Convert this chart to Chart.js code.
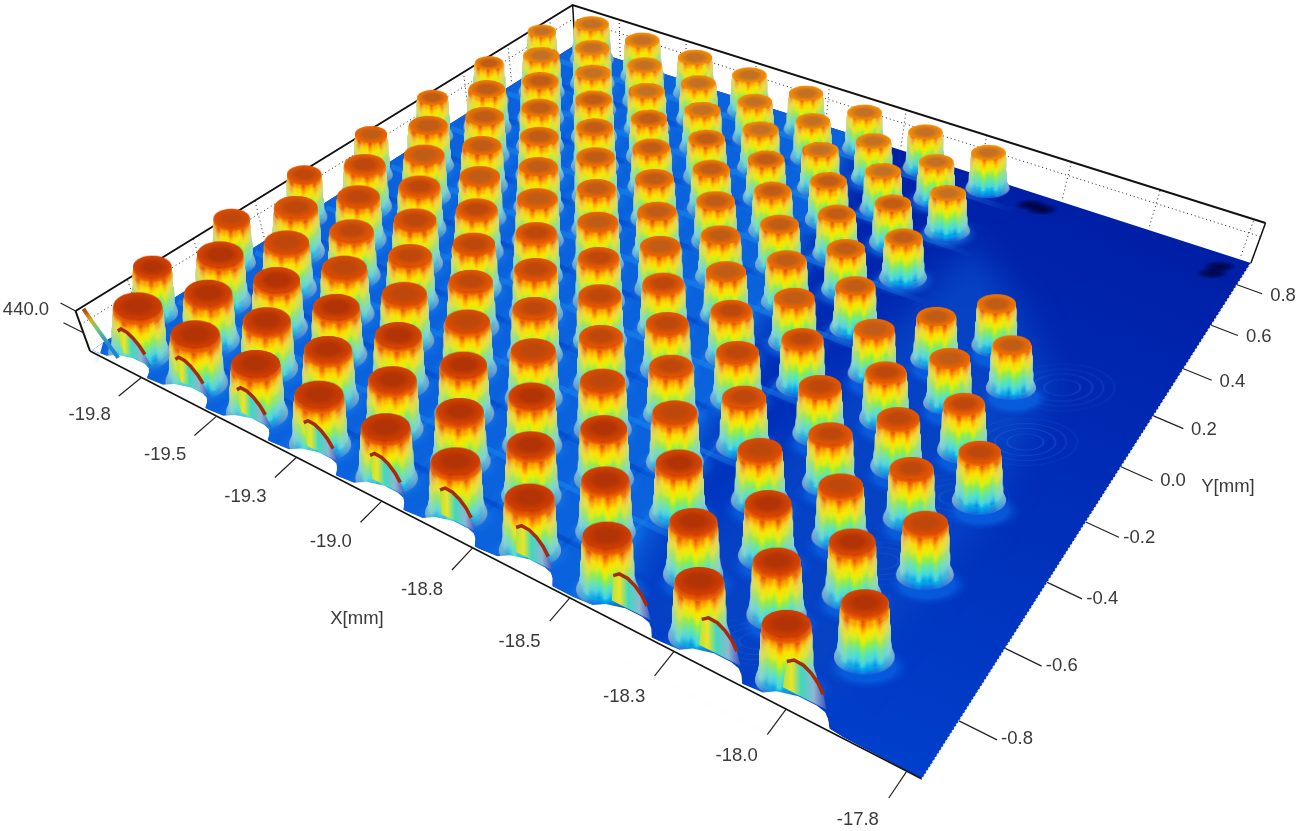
<!DOCTYPE html>
<html><head><meta charset="utf-8">
<style>html,body{margin:0;padding:0;background:#fff}canvas{display:block}</style>
<script src="https://cdn.jsdelivr.net/npm/chart.js@4/dist/chart.umd.min.js"></script>
</head><body>
<canvas id="c" width="1296" height="831"></canvas>
<script>
// ---- chart values (mm and nm) ----
const xRange=[-19.93,-17.72], yRange=[-0.947,0.914], zTop=440;
const xTicks=[-19.75,-19.5,-19.25,-19,-18.75,-18.5,-18.25,-18,-17.75];
const xTickLabels=["-19.8","-19.5","-19.3","-19.0","-18.8","-18.5","-18.3","-18.0","-17.8"];
const yTicks=[-0.8,-0.6,-0.4,-0.2,0,0.2,0.4,0.6,0.8];
const yTickLabels=["-0.8","-0.6","-0.4","-0.2","0.0","0.2","0.4","0.6","0.8"];
const evenRowY=[-0.89,-0.64,-0.388,-0.138,0.113,0.364,0.615,0.866];
const oddRowY=[-0.765,-0.514,-0.263,-0.012,0.239,0.489,0.74];
const rowLevelY=[-0.89,-0.765,-0.64,-0.514,-0.388,-0.263,-0.138,-0.012,0.113,0.239,0.364,0.489,0.615,0.74,0.866];
const rowPeakZ=[430,426,422,418,414,408,402,396,390,385,382,378,375,372,370];
const leftColX=[-19.826,-19.63,-19.433,-19.237,-19.04,-18.844,-18.647,-18.451];
const midColX=[-19.728,-19.531,-19.335,-19.138,-18.942,-18.745,-18.549];
const edgeColX=[-19.924];
const blockX=[-18.33,-18.33,-18.33,-18.33,-18.231,-18.231,-18.231,-18.231,-18.231,-18.133,-18.133,-18.133,-18.133,-18.133,-18.035,-18.035,-18.035,-18.035,-18.035,-17.937,-17.937,-17.937];
const blockY=[-0.765,-0.514,-0.263,-0.012,-0.89,-0.64,-0.388,-0.138,0.113,-0.765,-0.514,-0.263,-0.012,0.239,-0.89,-0.64,-0.388,-0.138,0.113,-0.765,-0.514,-0.263];
const cutX=[-19.813,-19.618,-19.419,-19.213,-19.019,-18.824,-18.623,-18.381,-18.174,-17.986];
const cutY=-0.908;
const cutDX=[-0.045,-0.04,-0.025,-0.005,0.012,0.028,0.04,0.05];
const cutZ=[0,245,290,285,250,190,115,0];
const bandY=[-0.827,-0.702,-0.576,-0.451,-0.325,-0.2,-0.075,0.05,0.176,0.301,0.427,0.552,0.677,0.802];
const bandX=[-19.777,-19.679,-19.581,-19.482,-19.384,-19.286,-19.188,-19.089,-18.991,-18.893,-18.795,-18.696,-18.598,-18.5];
const rippleX=[-17.935,-17.93,-17.98,-18.03,-18.13];
const rippleY=[0.18,-0.04,-0.28,-0.53,-0.84];
const spotX=[-18.315,-18.28,-17.784,-17.79];
const spotY=[0.854,0.85,0.854,0.815];
const cornerX=[-19.925,-19.91,-19.89,-19.87,-19.85];
const cornerY=[-0.93,-0.93,-0.93,-0.93,-0.93];
const cornerZ=[430,330,220,110,10];

// ---- projection onto the photographed plane ----
const pa=595.3,pb=689.5,pc=90,pd=228,pe=-290,pf=351,pg=-0.2567,ph=0.3557;
function uv(X,Y){return [(X-xRange[0])/(xRange[1]-xRange[0]),(Y-yRange[0])/(yRange[1]-yRange[0])];}
function project(X,Y,Z){
  const [s,t]=uv(X,Y),den=pg*s+ph*t+1;
  const bx=(pa*s+pb*t+pc)/den,by=(pd*s+pe*t+pf)/den;
  const k=(Z||0)/zTop,K=40+10*s*(1-t);
  return {x:bx+(bx-668)*0.025*k,y:by-k*K};
}
// ---- colour ramp ----
const ramp=[[0,20,105,222],[.08,0,165,235],[.2,70,215,228],[.33,95,232,170],[.47,150,238,70],[.58,225,240,15],[.70,255,225,0],[.80,255,165,0],[.89,238,100,0],[.96,212,65,0],[1,186,45,5]];
function jet(l){l=Math.max(0,Math.min(1,l));
  for(let i=1;i<ramp.length;i++){if(l<=ramp[i][0]){const a=ramp[i-1],b=ramp[i],q=(l-a[0])/(b[0]-a[0]);
    return [a[1]+(b[1]-a[1])*q,a[2]+(b[2]-a[2])*q,a[3]+(b[3]-a[3])*q];}}
  return ramp[ramp.length-1].slice(1);}
const rgb=c=>`rgb(${c[0]|0},${c[1]|0},${c[2]|0})`;
// ---- point images ----
const cache=new Map();
function layerSprite(w,asp,level,pat){
  w=Math.max(6,Math.round(w/2)*2);level=Math.round(level*56)/56;asp=Math.round(asp*25)/25;
  const key=[w,asp,level,pat].join('|');if(cache.has(key))return cache.get(key);
  const cv=document.createElement('canvas');const h=Math.ceil(w*asp);cv.width=w+2;cv.height=h+2;
  const g=cv.getContext('2d');const gr=g.createLinearGradient(1,0,w+1,0);
  for(let i=0;i<=20;i++){const u=i/10-1;
    const amp=level>0.86?0.008:level<0.1?0.015:0.05;
    const lv=level+amp*Math.sin(9*u+pat*1.9)+amp*.8*Math.sin(19*u+pat*3.1);
    let c=jet(lv);const m=Math.pow(Math.abs(u),2.6)*(level<.8?0.6:0.15);
    c=[c[0]+(200-c[0])*m,c[1]+(205-c[1])*m,c[2]+(195-c[2])*m];
    gr.addColorStop(i/20,rgb(c));}
  g.fillStyle=gr;g.beginPath();g.ellipse(w/2+1,h/2+1,w/2,h/2,0,0,7);g.fill();
  cache.set(key,cv);return cv;}
function capSprite(w,asp,t,peak){
  w=Math.round(w/2)*2;const band=Math.round(t*3);const key=['cap',w,asp.toFixed(2),band].join('|');
  if(cache.has(key))return cache.get(key);
  const cv=document.createElement('canvas');const h=Math.ceil(w*asp);cv.width=w+2;cv.height=h+2;
  const g=cv.getContext('2d');g.translate(w/2+1,h/2+1);g.scale(1,asp);
  const gr=g.createRadialGradient(0,0,0,0,0,w/2);
  const mid=[[178,52,6],[190,72,12],[192,92,22],[196,112,36]][band];const rim=jet(peak*.985);
  gr.addColorStop(0,rgb(mid));gr.addColorStop(.45,rgb(mid));gr.addColorStop(1,rgb(rim));
  g.fillStyle=gr;g.beginPath();g.arc(0,0,w/2,0,7);g.fill();cache.set(key,cv);return cv;}
function glowSprite(w,asp,inner,outer){
  w=Math.round(w/4)*4;const key=['glow',w,inner].join('|');if(cache.has(key))return cache.get(key);
  const cv=document.createElement('canvas');const h=Math.ceil(w*asp);cv.width=w;cv.height=h;
  const g=cv.getContext('2d');g.translate(w/2,h/2);g.scale(1,asp);
  const gr=g.createRadialGradient(0,0,0,0,0,w/2);gr.addColorStop(0,inner);gr.addColorStop(.6,inner);gr.addColorStop(1,outer);
  g.fillStyle=gr;g.beginPath();g.arc(0,0,w/2,0,7);g.fill();cache.set(key,cv);return cv;}
function ringSprite(w,asp){
  const key='ring'+w;if(cache.has(key))return cache.get(key);
  const cv=document.createElement('canvas');const h=Math.ceil(w*asp);cv.width=w;cv.height=h;
  const g=cv.getContext('2d');g.translate(w/2,h/2);g.scale(1,asp);
  [[.95,.08],[.75,.12],[.55,.16],[.33,.18]].forEach(r=>{g.strokeStyle=`rgba(50,130,235,${r[1]*1.6})`;g.lineWidth=2;g.beginPath();g.arc(0,0,w/2*r[0],0,7);g.stroke();});
  cache.set(key,cv);return cv;}
function darkSprite(){const cv=document.createElement('canvas');cv.width=34;cv.height=12;const g=cv.getContext('2d');
  g.translate(17,6);g.scale(1,.35);const gr=g.createRadialGradient(0,0,1,0,0,17);gr.addColorStop(0,'rgba(0,5,60,.95)');gr.addColorStop(.6,'rgba(0,5,70,.6)');gr.addColorStop(1,'rgba(0,10,100,0)');g.fillStyle=gr;g.beginPath();g.arc(0,0,17,0,7);g.fill();return cv;}

// ---- datasets ----
const datasets=[];
function add(o){o.order=-datasets.length;o.clip=false;datasets.push(o);return o;}
function path(pts,color,width,dash,extra){return add(Object.assign({type:'scatter',data:pts,showLine:true,tension:0,pointRadius:0,borderColor:color,borderWidth:width,borderDash:dash||[]},extra||{}));}
const cvMain=document.getElementById('c');const ctx0=cvMain.getContext('2d');
function lin(x0,y0,x1,y1,stops){const g=ctx0.createLinearGradient(x0,y0,x1,y1);stops.forEach(s=>g.addColorStop(s[0],s[1]));return g;}

const [x0,x1]=xRange,[y0,y1]=yRange;
// walls
path([project(x0,y0,290),project(x0,y1,290),project(x1,y1,290)],'#222',1,[1,3]);
xTicks.forEach(v=>path([project(v,y1,40),project(v,y1,zTop)],'#222',1,[1,3]));
yTicks.forEach(v=>path([project(x0,v,40),project(x0,v,zTop)],'#222',1,[1,3]));
path([project(x0,y0,zTop),project(x0,y1,zTop),project(x1,y1,zTop)],'#111',2,[]);
path([project(x0,y1,0),project(x0,y1,zTop)],'#111',1.5,[]);
// floor
const front=[];
cutX.forEach(c=>{[[-.115,-.942],[-.07,-.938],[-.05,-.922],[-.01,-.91],[.03,-.91],[.05,-.915],[.062,-.925],[.075,-.942]].forEach(p=>front.push([c+p[0],p[1]]));});
const floorPts=[project(x0,-0.91)].concat(front.map(p=>project(p[0],p[1])),[project(-17.88,-0.945),project(x1,y0),project(x1,y1),project(x0,y1)]);
path(floorPts,'rgba(0,0,0,0)',0,[],{polyFill:lin(1100,200,860,760,[[0,'#001ea6'],[.6,'#0032bc'],[1,'#0040cc']])});
const blockZoneX=[-18.37,-18.0,-17.93,-17.9,-17.96,-18.14,-18.37];
const blockZoneY=[-0.93,-0.93,-0.85,-0.3,0.18,0.4,0.6];
path(blockZoneX.map((v,i)=>project(v,blockZoneY[i])),'rgba(0,0,0,0)',0,[],{polyFill:'#0642c4',polyBlur:16});
const zoneFront=front.filter(p=>p[0]<-18.32);
const zA=project(-18.43,y0),zB=project(-18.33,y0);
const zoneA=[project(x0,-0.91)].concat(zoneFront.map(p=>project(p[0],p[1])),[project(-18.3,-0.93),project(-18.3,y1),project(x0,y1)]);
path(zoneA,'rgba(0,0,0,0)',0,[],{polyFill:lin(zA.x,zA.y,zB.x,zB.y,[[0,'#0a62dc'],[1,'rgba(6,66,196,0)']])});
bandX.forEach((v,i)=>path([project(v,y0+.02),project(v,y1-.02)],i%2?'rgba(30,140,240,.28)':'rgba(0,60,195,.28)',4));
bandY.forEach((v,i)=>{const a=project(x0+.02,v),b=project(-18.34,v);
  const col=i%2?'30,140,240':'0,60,195';
  path([a,b],lin(a.x,a.y,b.x,b.y,[[0,`rgba(${col},.5)`],[.86,`rgba(${col},.5)`],[1,`rgba(${col},0)`]]),5);});
// ripples, dark spots, glow around bases
const ringPts=rippleX.map((v,i)=>project(v,rippleY[i]));
add({type:'scatter',data:ringPts,pointRadius:5,pointStyle:()=>ringSprite(110,.45),showLine:false});
const spotPts=spotX.map((v,i)=>project(v,spotY[i]));
add({type:'scatter',data:spotPts,pointRadius:5,pointStyle:()=>darkSprite(),showLine:false});

// pillars
const pillars=[];
edgeColX.forEach(X=>oddRowY.forEach(Y=>pillars.push({X,Y,narrow:.8,p:1})));
leftColX.forEach((X,i)=>evenRowY.forEach((Y,j)=>pillars.push({X,Y,narrow:1,p:(i+j)%3})));
midColX.forEach((X,i)=>oddRowY.forEach((Y,j)=>pillars.push({X,Y,narrow:1,p:(i+2*j)%3})));
blockX.forEach((X,i)=>pillars.push({X,Y:blockY[i],narrow:1,p:i%3}));
pillars.forEach(q=>{const [s,t]=uv(q.X,q.Y);q.s=s;q.t=t;q.base=project(q.X,q.Y,0);
  let best=0;rowLevelY.forEach((v,i)=>{if(Math.abs(v-q.Y)<Math.abs(rowLevelY[best]-q.Y))best=i;});q.Z=rowPeakZ[best];});
pillars.sort((a,b)=>a.base.y-b.base.y);
const glowPts=[],glowStyle=[];
pillars.filter(q=>q.narrow===1&&q.t<.95).forEach(q=>{const w=54/(1+.48*q.t);const block=q.X>-18.36;
  glowPts.push({x:q.base.x+(block?3:0),y:q.base.y+(block?10:3)});
  glowStyle.push(block?glowSprite(w*1.8,.5,'rgba(10,100,228,.75)','rgba(0,60,200,0)'):glowSprite(w*1.7,.5,'rgba(25,135,238,.5)','rgba(15,100,225,0)'));});
add({type:'scatter',data:glowPts,pointRadius:5,pointStyle:c=>glowStyle[c.dataIndex],showLine:false});
const pts=[],sty=[];
pillars.forEach(q=>{
  const w=q.narrow*54/(1+.48*q.t),asp=.56-.12*q.t;
  const K=(40+10*q.s*(1-q.t))*(1.2-.15*q.t)*q.Z/zTop,N=Math.ceil(K);const peak=q.Z/zTop;
  for(let l=0;l<=N;l++){const f=l/N;
    const r=f<.14?1.18-(f/.14)*.14:f<.8?1.04-((f-.14)/.66)*.08:.96-((f-.8)/.2)*.05;
    pts.push({x:q.base.x+(q.base.x-668)*.003*f,y:q.base.y-K*f});sty.push(layerSprite(w*r,asp,f*peak,q.p));}
  pts.push({x:q.base.x+(q.base.x-668)*.003,y:q.base.y-K});sty.push(capSprite(w*.9,asp,q.t,peak));
});
add({type:'scatter',data:pts,pointRadius:5,pointStyle:c=>sty[c.dataIndex],showLine:false});
// white mask in front of the surface edge trims the base flares of the front row
const maskPts=front.map(p=>project(p[0],p[1]));
maskPts.unshift(project(x0,-0.91));maskPts.push(project(-17.88,-0.945),project(x1,y0),{x:project(x1,y0).x,y:project(x1,y0).y+30},{x:project(x0,y0).x,y:project(x0,y0).y+40});
path(maskPts,'rgba(0,0,0,0)',0,[],{polyFill:'#ffffff'});
// cut pillars on the front edge
cutX.forEach(c=>{
  const outline=cutDX.map((d,i)=>project(c+d,cutY,cutZ[i]));
  const xs=outline.map(p=>p.x);const xa=Math.min(...xs),xb=Math.max(...xs);
  path(outline,'rgba(0,0,0,0)',0,[],{polyFill:lin(xa,0,xb,0,[[0,'#b8e03c'],[.2,'#e8e628'],[.42,'#40d8c0'],[.7,'#8cb8d0'],[.9,'#5a70c8'],[1,'#1a50c0']])});
  path(cutDX.slice(1,7).map((d,i)=>project(c+d,cutY,cutZ[i+1])),'#a82a08',3.5);
});
// left corner sliver
path(cornerX.map((v,i)=>project(v,cornerY[i],cornerZ[i])),lin(78,313,98,350,[[0,'#b83a10'],[.3,'#d8b020'],[.55,'#70c880'],[1,'#2088d0']]),4);
// axes
path([project(x0,y0,zTop),project(x0,y0,0)],'#111',2);
path([project(x0,y0,0),project(x1,y0,0)],'#111',1.5);
path([project(x1,y0,0),project(x1,y1,0)],'#eee',1.5,[2,2]);
path([project(x1,y1,0),project(x1,y1,zTop)],'#111',1.5);
const xLab=[],yLab=[];
xTicks.forEach((v,i)=>{const p=project(v,y0,0),q=(p.x-90)/830;
  path([p,{x:p.x-23+5*q,y:p.y+18+9*q}],'#222',1.2);
  xLab.push({x:p.x-52+3*q,y:p.y+37+12*q,text:xTickLabels[i]});});
yTicks.forEach((v,i)=>{const p=project(x1,v,0),q=(v+.8)/1.6;
  path([p,{x:p.x+38-13*q,y:p.y+19-10*q}],'#222',1.2);
  yLab.push({x:p.x+58-12*q,y:p.y+18-7*q,text:yTickLabels[i]});});
const zTickA=project(x0,y0,zTop);
path([{x:zTickA.x-15,y:zTickA.y-8},zTickA],'#222',1.2);
const zMid=project(x0,y0,200);
path([{x:zMid.x-20,y:zMid.y-10},zMid],'#222',1.2);
const extraLab=[{x:26,y:310,text:"440.0"},{x:1228,y:487,text:"Y[mm]"},{x:357,y:619,text:"X[mm]"}];

const polyPlugin={id:'poly',beforeDatasetDraw(chart,args){
  const d=chart.data.datasets[args.index];if(!d.polyFill)return;
  const ctx=chart.ctx,el=args.meta.data;ctx.save();ctx.fillStyle=d.polyFill;
  if(d.polyBlur)ctx.filter=`blur(${d.polyBlur}px)`;ctx.beginPath();
  el.forEach((p,i)=>i?ctx.lineTo(p.x,p.y):ctx.moveTo(p.x,p.y));ctx.closePath();ctx.fill();ctx.restore();}};
const textPlugin={id:'labels',afterDatasetsDraw(chart){
  const ctx=chart.ctx,sx=chart.scales.x,sy=chart.scales.y;ctx.save();
  ctx.font='18.5px "Liberation Sans"';ctx.fillStyle='#3a3a3a';ctx.textAlign='center';ctx.textBaseline='middle';
  xLab.concat(yLab,extraLab).forEach(l=>ctx.fillText(l.text,sx.getPixelForValue(l.x),sy.getPixelForValue(l.y)));
  ctx.restore();}};
new Chart(cvMain,{type:'scatter',data:{datasets},plugins:[polyPlugin,textPlugin],options:{
  responsive:false,animation:false,devicePixelRatio:1,events:[],layout:{padding:0,autoPadding:false},
  plugins:{legend:{display:false},tooltip:{enabled:false},title:{display:false}},
  scales:{x:{type:'linear',min:0,max:1296,display:false},y:{type:'linear',min:0,max:831,reverse:true,display:false}}
}});
</script></body></html>
